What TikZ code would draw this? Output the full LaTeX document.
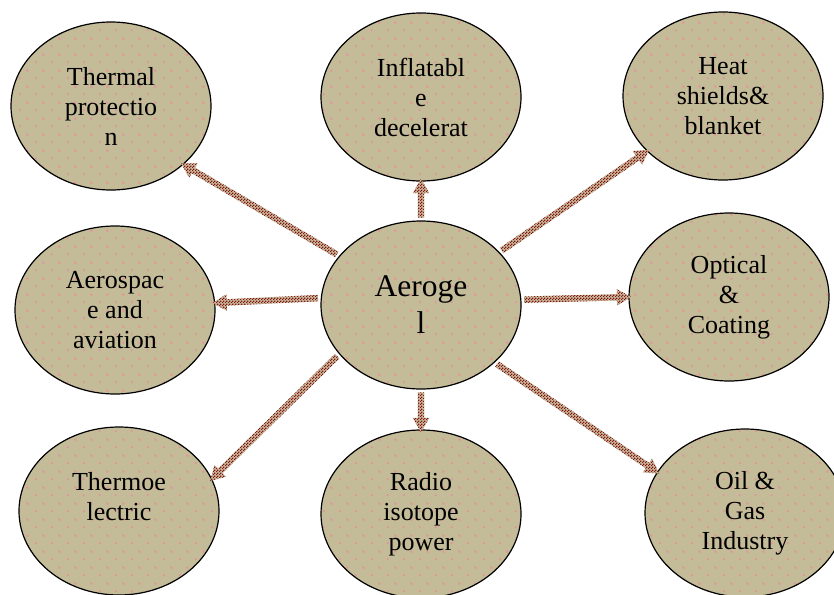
\documentclass[tikz,border=0pt]{standalone}
\usepackage{fontspec}
\setmainfont{Liberation Serif}
\usetikzlibrary{patterns.meta,shapes.geometric,shapes.arrows,calc}
\definecolor{beige}{HTML}{C4BC98}
\definecolor{dotpink}{HTML}{E8909A}
\definecolor{arrred}{HTML}{801515}
\definecolor{arrlight}{HTML}{C9B99A}
\tikzdeclarepattern{
  name=pinkdots,
  type=colored,
  bottom left={(0pt,0pt)},
  top right={(16pt,16pt)},
  tile size={(16pt,16pt)},
  code={
    \fill[dotpink] (3pt,3pt) rectangle (5pt,5pt);
    \fill[dotpink] (11pt,11pt) rectangle (13pt,13pt);
  }
}
\tikzdeclarepattern{
  name=checker,
  type=uncolored,
  bottom left={(0pt,0pt)},
  top right={(3pt,3pt)},
  tile size={(3pt,3pt)},
  code={
    \fill (0pt,0pt) rectangle (1.5pt,1.5pt);
    \fill (1.5pt,1.5pt) rectangle (3pt,3pt);
  }
}
\tikzset{
  bubble/.style={ellipse, draw=black, line width=1.2pt,
    minimum width=200pt, minimum height=168pt, inner sep=0pt,
    preaction={fill=beige}, pattern=pinkdots, align=center,
    font=\fontsize{26}{30}\selectfont},
  blockarrow/.style={single arrow, inner xsep=0pt, inner ysep=3pt,
    single arrow head extend=5pt, single arrow tip angle=60,
    single arrow head indent=0pt,
    preaction={fill=arrlight}, pattern=checker, pattern color=arrred},
}
\newcommand{\linkarrow}[3]{%
  \path let \p1=(#1), \p2=(#2),
    \n1={atan2(\y2-\y1,\x2-\x1)}, \n2={veclen(\x2-\x1,\y2-\y1)} in
    node[blockarrow, minimum height=\n2, rotate=\n1] (#3)
      at ($(\p1)!0.5!(\p2)$) {};}
\begin{document}
\begin{tikzpicture}[x=1pt,y=-1pt]
\useasboundingbox (0,0) rectangle (834,594);
\fill[white] (0,0) rectangle (834,594);
\node[bubble] (th) at (111,106) {Thermal\\protectio\\n};
\node[bubble] (inf) at (421,97) {Inflatabl\\e\\decelerat};
\node[bubble] (heat) at (723,96) {Heat\\shields\&\\blanket};
\node[bubble] (aero) at (115,310) {Aerospac\\e and\\aviation};
\node[bubble, font=\fontsize{31.5}{37}\selectfont] (c) at (421,305) {Aeroge\\l};
\node[bubble] (opt) at (729,297) {Optical\\\&\\Coating};
\node[bubble] (tel) at (119,511) {Thermoe\\lectric\\\mbox{}};
\node[bubble] (rad) at (421,514) {Radio\\isotope\\power};
\node[bubble] (oil) at (745,513) {Oil \&\\Gas\\Industry};
\linkarrow{c.149}{th.321}{a1}
\linkarrow{c.90}{inf.-90}{a2}
\linkarrow{c.34}{heat.216}{a3}
\linkarrow{c.176}{aero.4}{a4}
\linkarrow{c.3}{opt.180}{a5}
\linkarrow{c.211}{tel.19}{a6}
\linkarrow{c.-90}{rad.90}{a7}
\linkarrow{c.-38}{oil.155}{a8}
\end{tikzpicture}
\end{document}
